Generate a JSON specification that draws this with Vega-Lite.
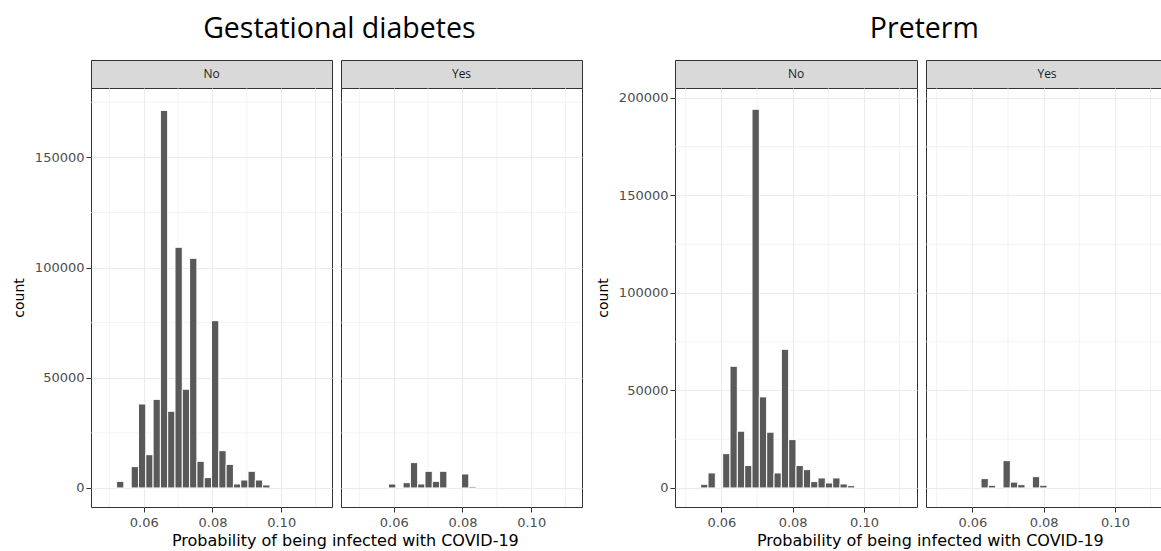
{
  "$schema": "https://vega.github.io/schema/vega-lite/v6.json",
  "background": "white",
  "padding": {"left": 11, "top": 15, "right": 0, "bottom": 0},
  "datasets": {
    "gx": [{"v": 0.05}, {"v": 0.07}, {"v": 0.09}, {"v": 0.11}],
    "gyL": [{"v": 25000}, {"v": 75000}, {"v": 125000}, {"v": 175000}],
    "gyR": [{"v": 25000}, {"v": 75000}, {"v": 125000}, {"v": 175000}],
    "gdNo": [
      {"start": 0.052082, "end": 0.054208, "count": 3000},
      {"start": 0.056334, "end": 0.05846, "count": 9680},
      {"start": 0.05846, "end": 0.060586, "count": 38100},
      {"start": 0.060586, "end": 0.062712, "count": 15100},
      {"start": 0.062712, "end": 0.064838, "count": 40200},
      {"start": 0.064838, "end": 0.066964, "count": 171300},
      {"start": 0.066964, "end": 0.06909, "count": 34800},
      {"start": 0.06909, "end": 0.071216, "count": 109200},
      {"start": 0.071216, "end": 0.073342, "count": 44800},
      {"start": 0.073342, "end": 0.075468, "count": 104200},
      {"start": 0.075468, "end": 0.077594, "count": 12100},
      {"start": 0.077594, "end": 0.07972, "count": 4700},
      {"start": 0.07972, "end": 0.081846, "count": 75900},
      {"start": 0.081846, "end": 0.083972, "count": 16900},
      {"start": 0.083972, "end": 0.086098, "count": 10700},
      {"start": 0.086098, "end": 0.088224, "count": 1800},
      {"start": 0.088224, "end": 0.09035, "count": 3600},
      {"start": 0.09035, "end": 0.092476, "count": 7560},
      {"start": 0.092476, "end": 0.094602, "count": 3600},
      {"start": 0.094602, "end": 0.096728, "count": 1360}
    ],
    "gdYes": [
      {"start": 0.05846, "end": 0.060586, "count": 1800},
      {"start": 0.062712, "end": 0.064838, "count": 2400},
      {"start": 0.064838, "end": 0.066964, "count": 11500},
      {"start": 0.066964, "end": 0.06909, "count": 1800},
      {"start": 0.06909, "end": 0.071216, "count": 7560},
      {"start": 0.071216, "end": 0.073342, "count": 3000},
      {"start": 0.073342, "end": 0.075468, "count": 7560},
      {"start": 0.07972, "end": 0.081846, "count": 6350},
      {"start": 0.081846, "end": 0.083972, "count": 600}
    ],
    "ptNo": [
      {"start": 0.054202, "end": 0.056259, "count": 1880},
      {"start": 0.056259, "end": 0.058316, "count": 7690},
      {"start": 0.060373, "end": 0.06243, "count": 17600},
      {"start": 0.06243, "end": 0.064487, "count": 62400},
      {"start": 0.064487, "end": 0.066544, "count": 29100},
      {"start": 0.066544, "end": 0.068601, "count": 11500},
      {"start": 0.068601, "end": 0.070658, "count": 194200},
      {"start": 0.070658, "end": 0.072715, "count": 46700},
      {"start": 0.072715, "end": 0.074772, "count": 28600},
      {"start": 0.074772, "end": 0.076829, "count": 7700},
      {"start": 0.076829, "end": 0.078886, "count": 71100},
      {"start": 0.078886, "end": 0.080943, "count": 24800},
      {"start": 0.080943, "end": 0.083, "count": 11500},
      {"start": 0.083, "end": 0.085057, "count": 9400},
      {"start": 0.085057, "end": 0.087114, "count": 3250},
      {"start": 0.087114, "end": 0.089171, "count": 5130},
      {"start": 0.089171, "end": 0.091228, "count": 2560},
      {"start": 0.091228, "end": 0.093285, "count": 5130},
      {"start": 0.093285, "end": 0.095342, "count": 2050},
      {"start": 0.095342, "end": 0.097399, "count": 1200}
    ],
    "ptYes": [
      {"start": 0.06243, "end": 0.064487, "count": 4800},
      {"start": 0.064487, "end": 0.066544, "count": 1370},
      {"start": 0.068601, "end": 0.070658, "count": 14000},
      {"start": 0.070658, "end": 0.072715, "count": 3000},
      {"start": 0.072715, "end": 0.074772, "count": 1700},
      {"start": 0.076829, "end": 0.078886, "count": 5800},
      {"start": 0.078886, "end": 0.080943, "count": 1400}
    ]
  },
  "config": {
    "view": {"stroke": "#333333", "strokeWidth": 1, "fill": "white"},
    "axis": {
      "domain": false, "grid": true, "gridColor": "#EBEBEB", "gridWidth": 1.1,
      "tickColor": "#333333", "tickSize": 5, "tickWidth": 1,
      "labelColor": "#4D4D4D", "labelFont": "DejaVu Sans", "labelFontSize": 13, "labelPadding": 2,
      "titleFont": "DejaVu Sans", "titleFontSize": 14, "titleFontWeight": "normal", "titleColor": "black"
    },
    "axisX": {"labelPadding": 4},
    "title": {"color": "black", "fontWeight": "normal"}
  },
  "spacing": 12,
  "hconcat": [
    {
      "title": {"text": "Gestational diabetes", "font": "Open Sans", "fontSize": 28.5, "offset": 16, "anchor": "middle", "dx": 42},
      "vconcat": [
        {
          "title": {"text": "Probability of being infected with COVID-19", "orient": "bottom", "font": "DejaVu Sans", "fontSize": 16, "anchor": "middle", "offset": 3, "dx": 48},
          "columns": 2,
          "spacing": {"row": 0, "column": 9},
          "bounds": "flush",
          "concat": [
            {
              "width": 241, "height": 28,
              "data": {"values": [{"panel": "No"}]},
              "mark": {"type": "text", "font": "Open Sans", "fontSize": 12, "color": "#1A1A1A"},
              "encoding": {"text": {"field": "panel", "type": "nominal"}},
              "view": {"fill": "#D9D9D9", "stroke": "#333333"}
            },
            {
              "width": 241, "height": 28,
              "data": {"values": [{"panel": "Yes"}]},
              "mark": {"type": "text", "font": "Open Sans", "fontSize": 12, "color": "#1A1A1A"},
              "encoding": {"text": {"field": "panel", "type": "nominal"}},
              "view": {"fill": "#D9D9D9", "stroke": "#333333"}
            },
            {
              "width": 241, "height": 419,
              "layer": [
                {
                  "data": {"name": "gx"},
                  "mark": {"type": "rule", "color": "#EBEBEB", "strokeWidth": 0.6},
                  "encoding": {"x": {"field": "v", "type": "quantitative", "scale": {"domain": [0.04464, 0.11479], "nice": false, "zero": false}}}
                },
                {
                  "data": {"name": "gyL"},
                  "mark": {"type": "rule", "color": "#EBEBEB", "strokeWidth": 0.6},
                  "encoding": {"y": {"field": "v", "type": "quantitative", "scale": {"domain": [-8641, 181467], "nice": false, "zero": false}}}
                },
                {
                  "data": {"name": "gdNo"},
                  "mark": {"type": "rect", "fill": "#595959", "stroke": "white", "strokeWidth": 1},
                  "encoding": {
                    "x": {"field": "start", "type": "quantitative", "scale": {"domain": [0.04464, 0.11479], "nice": false, "zero": false}, "axis": {"values": [0.06, 0.08, 0.1], "format": ".2f", "title": null}},
                    "x2": {"field": "end"},
                    "y": {"field": "count", "type": "quantitative", "scale": {"domain": [-8641, 181467], "nice": false, "zero": false}, "axis": {"values": [0, 50000, 100000, 150000], "format": "d", "title": "count", "titlePadding": 8}},
                    "y2": {"datum": 0}
                  }
                }
              ]
            },
            {
              "width": 241, "height": 419,
              "layer": [
                {
                  "data": {"name": "gx"},
                  "mark": {"type": "rule", "color": "#EBEBEB", "strokeWidth": 0.6},
                  "encoding": {"x": {"field": "v", "type": "quantitative", "scale": {"domain": [0.04464, 0.11479], "nice": false, "zero": false}}}
                },
                {
                  "data": {"name": "gyL"},
                  "mark": {"type": "rule", "color": "#EBEBEB", "strokeWidth": 0.6},
                  "encoding": {"y": {"field": "v", "type": "quantitative", "scale": {"domain": [-8641, 181467], "nice": false, "zero": false}}}
                },
                {
                  "data": {"name": "gdYes"},
                  "mark": {"type": "rect", "fill": "#595959", "stroke": "white", "strokeWidth": 1},
                  "encoding": {
                    "x": {"field": "start", "type": "quantitative", "scale": {"domain": [0.04464, 0.11479], "nice": false, "zero": false}, "axis": {"values": [0.06, 0.08, 0.1], "format": ".2f", "title": null}},
                    "x2": {"field": "end"},
                    "y": {"field": "count", "type": "quantitative", "scale": {"domain": [-8641, 181467], "nice": false, "zero": false}, "axis": {"values": [0, 50000, 100000, 150000], "labels": false, "ticks": false, "title": null}},
                    "y2": {"datum": 0}
                  }
                }
              ]
            }
          ]
        }
      ]
    },
    {
      "title": {"text": "Preterm", "font": "Open Sans", "fontSize": 28.5, "offset": 16, "anchor": "middle", "dx": 42},
      "vconcat": [
        {
          "title": {"text": "Probability of being infected with COVID-19", "orient": "bottom", "font": "DejaVu Sans", "fontSize": 16, "anchor": "middle", "offset": 3, "dx": 48},
          "columns": 2,
          "spacing": {"row": 0, "column": 9},
          "bounds": "flush",
          "concat": [
            {
              "width": 242, "height": 28,
              "data": {"values": [{"panel": "No"}]},
              "mark": {"type": "text", "font": "Open Sans", "fontSize": 12, "color": "#1A1A1A"},
              "encoding": {"text": {"field": "panel", "type": "nominal"}},
              "view": {"fill": "#D9D9D9", "stroke": "#333333"}
            },
            {
              "width": 242, "height": 28,
              "data": {"values": [{"panel": "Yes"}]},
              "mark": {"type": "text", "font": "Open Sans", "fontSize": 12, "color": "#1A1A1A"},
              "encoding": {"text": {"field": "panel", "type": "nominal"}},
              "view": {"fill": "#D9D9D9", "stroke": "#333333"}
            },
            {
              "width": 242, "height": 419,
              "layer": [
                {
                  "data": {"name": "gx"},
                  "mark": {"type": "rule", "color": "#EBEBEB", "strokeWidth": 0.6},
                  "encoding": {"x": {"field": "v", "type": "quantitative", "scale": {"domain": [0.047, 0.11488], "nice": false, "zero": false}}}
                },
                {
                  "data": {"name": "gyR"},
                  "mark": {"type": "rule", "color": "#EBEBEB", "strokeWidth": 0.6},
                  "encoding": {"y": {"field": "v", "type": "quantitative", "scale": {"domain": [-9767, 205105], "nice": false, "zero": false}}}
                },
                {
                  "data": {"name": "ptNo"},
                  "mark": {"type": "rect", "fill": "#595959", "stroke": "white", "strokeWidth": 1},
                  "encoding": {
                    "x": {"field": "start", "type": "quantitative", "scale": {"domain": [0.047, 0.11488], "nice": false, "zero": false}, "axis": {"values": [0.06, 0.08, 0.1], "format": ".2f", "title": null}},
                    "x2": {"field": "end"},
                    "y": {"field": "count", "type": "quantitative", "scale": {"domain": [-9767, 205105], "nice": false, "zero": false}, "axis": {"values": [0, 50000, 100000, 150000, 200000], "format": "d", "title": "count", "titlePadding": 8}},
                    "y2": {"datum": 0}
                  }
                }
              ]
            },
            {
              "width": 242, "height": 419,
              "layer": [
                {
                  "data": {"name": "gx"},
                  "mark": {"type": "rule", "color": "#EBEBEB", "strokeWidth": 0.6},
                  "encoding": {"x": {"field": "v", "type": "quantitative", "scale": {"domain": [0.047, 0.11488], "nice": false, "zero": false}}}
                },
                {
                  "data": {"name": "gyR"},
                  "mark": {"type": "rule", "color": "#EBEBEB", "strokeWidth": 0.6},
                  "encoding": {"y": {"field": "v", "type": "quantitative", "scale": {"domain": [-9767, 205105], "nice": false, "zero": false}}}
                },
                {
                  "data": {"name": "ptYes"},
                  "mark": {"type": "rect", "fill": "#595959", "stroke": "white", "strokeWidth": 1},
                  "encoding": {
                    "x": {"field": "start", "type": "quantitative", "scale": {"domain": [0.047, 0.11488], "nice": false, "zero": false}, "axis": {"values": [0.06, 0.08, 0.1], "format": ".2f", "title": null}},
                    "x2": {"field": "end"},
                    "y": {"field": "count", "type": "quantitative", "scale": {"domain": [-9767, 205105], "nice": false, "zero": false}, "axis": {"values": [0, 50000, 100000, 150000, 200000], "labels": false, "ticks": false, "title": null}},
                    "y2": {"datum": 0}
                  }
                }
              ]
            }
          ]
        }
      ]
    }
  ]
}
